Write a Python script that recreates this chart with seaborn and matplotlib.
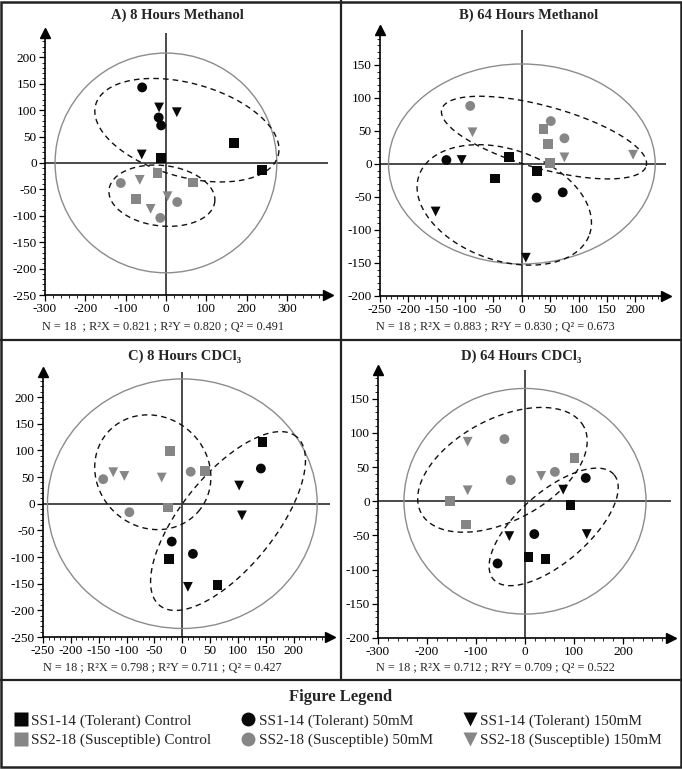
import numpy as np
import pandas as pd
import seaborn as sns
import matplotlib.pyplot as plt
from matplotlib.patches import Ellipse, Rectangle
from matplotlib.lines import Line2D
from matplotlib.ticker import MultipleLocator

W, H = 682, 769
sns.set_style("white")
plt.rcParams['font.family'] = ['Liberation Serif', 'DejaVu Serif']
plt.rcParams['axes.unicode_minus'] = False

BLACK = '#080808'
GRAY = '#868686'

# --- groups (same order in every panel) ---
lines = ['SS1-14 (Tolerant)'] * 9 + ['SS2-18 (Susceptible)'] * 9
treatments = (['Control'] * 3 + ['50mM'] * 3 + ['150mM'] * 3) * 2

# --- score values ---
a_x = [-12, 169, 238, -59, -18, -12, -17, 27, -60,
       -21, 67, -74, -112, 28, -14, -65, 4, -38]
a_y = [9.5, 37, -14, 143, 86, 71, 105, 96, 16,
       -19, -37, -68, -38, -74, -104, -32, -63, -87]

b_x = [-23, -48, 26, -133, 26, 72, -106, -152, 7,
       38, 46, 49, -91, 51, 75, -87, 75, 196]
b_y = [11, -22, -10, 6, -51, -43, 6, -72, -142,
       53, 30, 1, 88, 65, 39, 48, 10, 14]

c_x = [-24, 63, 144, -19, 19, 141, 102, 107, 10,
       -22, 40, -25, -142, -95, 15, -124, -104, -37]
c_y = [-104, -152, 116, -71, -94, 66, 34, -22, -156,
       99, 62, -7, 46, -16, 60, 59, 52, 49]

d_x = [93, 7, 42, 124, 19, -56, 78, -32, 126,
       -153, -121, 101, -42, -29, 61, -117, -117, 33]
d_y = [-5, -82, -84, 34, -48, -91, 17, -51, -48,
       0, -34, 63, 91, 31, 43, 87, 16, 37]

titles = ['A) 8 Hours Methanol', 'B) 64 Hours Methanol',
          'C) 8 Hours CDCl\u2083', 'D) 64 Hours CDCl\u2083']
stats = ['N = 18  ; R\u00b2X = 0.821 ; R\u00b2Y = 0.820 ; Q\u00b2 = 0.491',
         'N = 18 ; R\u00b2X = 0.883 ; R\u00b2Y = 0.830 ; Q\u00b2 = 0.673',
         'N = 18 ; R\u00b2X = 0.798 ; R\u00b2Y = 0.711 ; Q\u00b2 = 0.427',
         'N = 18 ; R\u00b2X = 0.712 ; R\u00b2Y = 0.709 ; Q\u00b2 = 0.522']

# Hotelling T2 ellipse radii (x, y)
t2_radius = [(275, 208), (235, 151.5), (242, 234), (247, 165)]

# group ellipses: centre x, centre y, semi-axes (x units), angle on screen
group_ellipses = [
    [(52, 62, 235, 116, -15.6), (-10, -62, 132, 75, -6.6)],
    [(39, 40, 187, 55, -15.5), (-31, -62, 159, 98, -19)],
    [(-53, 59, 108, 99, -41), (82, -32.5, 195, 84, 51)],
    [(-46, 46, 188, 104, 28), (58.5, -37.5, 163, 72, 41)],
]

# axis setup per panel
xlims = [(-300, 402), (-250, 254), (-250, 265), (-300, 298)]
ylims = [(-250, 246), (-200, 203), (-250, 247), (-200, 192)]
xticks = [np.arange(-300, 301, 100), np.arange(-250, 201, 50),
          np.arange(-250, 201, 50), np.arange(-300, 201, 100)]
yticks = [np.arange(-250, 201, 50), np.arange(-200, 151, 50),
          np.arange(-250, 201, 50), np.arange(-200, 151, 50)]
xminor = [20, 10, 10, 20]

# panel boxes in pixels: left, right, top, bottom
boxes = [(45, 328, 33, 295), (380, 666, 30, 296),
         (43, 330, 372, 637), (378, 671, 370, 638)]
title_pos = [(177, 15), (529, 15), (185, 356), (521, 356)]
stats_pos = [(42, 327), (376, 327), (43, 668), (376, 668)]

xs = [a_x, b_x, c_x, d_x]
ys = [a_y, b_y, c_y, d_y]

palette = {'SS1-14 (Tolerant)': BLACK, 'SS2-18 (Susceptible)': GRAY}
markers = {'Control': 's', '50mM': 'o', '150mM': 'v'}

fig = plt.figure(figsize=(W / 100, H / 100), dpi=100)

for i in range(4):
    l, r, t, b = boxes[i]
    ax = fig.add_axes([l / W, 1 - b / H, (r - l) / W, (b - t) / H])
    df = pd.DataFrame({'t1': xs[i], 't2': ys[i], 'line': lines, 'treatment': treatments})
    x0, x1 = xlims[i]
    y0, y1 = ylims[i]
    ax.set_xlim(x0, x1)
    ax.set_ylim(y0, y1)

    # crosshair
    ax.axhline(0, color='#3c3c3c', lw=1.3, zorder=1)
    ax.axvline(0, color='#3c3c3c', lw=1.3, zorder=1)

    # Hotelling ellipse
    rx, ry = t2_radius[i]
    ax.add_patch(Ellipse((0, 0), 2 * rx, 2 * ry, fill=False, ec='#8c8c8c', lw=1.0, zorder=1))

    # group ellipses (dashed)
    kx = (r - l) / (x1 - x0)
    ky = (b - t) / (y1 - y0)
    ratio = ky / kx
    tt = np.linspace(0, 2 * np.pi, 200)
    for cx, cy, ea, eb, ang in group_ellipses[i]:
        th = np.radians(ang)
        ex = cx + ea * np.cos(tt) * np.cos(th) - eb * np.sin(tt) * np.sin(th)
        ey = cy + (ea * np.cos(tt) * np.sin(th) + eb * np.sin(tt) * np.cos(th)) / ratio
        ax.plot(ex, ey, color='#111111', lw=1.0, ls=(0, (4, 3)), zorder=2)

    sns.scatterplot(data=df, x='t1', y='t2', hue='line', style='treatment',
                    palette=palette, markers=markers, s=50, linewidth=0,
                    legend=False, ax=ax, zorder=3)

    ax.set_xlabel('')
    ax.set_ylabel('')
    ax.set_xticks(xticks[i])
    ax.set_yticks(yticks[i])
    ax.xaxis.set_minor_locator(MultipleLocator(xminor[i]))
    ax.yaxis.set_minor_locator(MultipleLocator(10))
    ax.tick_params(which='major', direction='out', length=4, width=0.9,
                   labelsize=9.5, pad=2, colors='black', left=True, bottom=True)
    ax.tick_params(which='minor', direction='out', length=2.2, width=0.7,
                   left=True, bottom=True)
    for side in ['top', 'right']:
        ax.spines[side].set_visible(False)
    for side in ['left', 'bottom']:
        ax.spines[side].set_color('black')
        ax.spines[side].set_linewidth(1.2)
    ax.set_facecolor('none')
    # arrow heads
    ax.plot([x1], [y0], marker='>', ms=7, color='black', clip_on=False, zorder=5)
    ax.plot([x0], [y1], marker='^', ms=7, color='black', clip_on=False, zorder=5)

    fig.text(title_pos[i][0] / W, 1 - title_pos[i][1] / H, titles[i],
             ha='center', va='center', fontsize=10.5, fontweight='bold')
    fig.text(stats_pos[i][0] / W, 1 - stats_pos[i][1] / H, stats[i],
             ha='left', va='center', fontsize=8.8)

# frame lines
fig.add_artist(Rectangle((0.002, 0.002), 0.996, 0.996, transform=fig.transFigure,
                         fill=False, ec='#222222', lw=1.8))
fig.add_artist(Line2D([341 / W, 341 / W], [1 - 680 / H, 1], transform=fig.transFigure,
                      color='#222222', lw=1.6))
for yy in [340, 680]:
    fig.add_artist(Line2D([0, 1], [1 - yy / H, 1 - yy / H], transform=fig.transFigure,
                          color='#222222', lw=1.6))

# legend
fig.text(341 / W, 1 - 697 / H, 'Figure Legend', ha='center', va='center',
         fontsize=12, fontweight='bold')
handles, labels = [], []
for tr in ['Control', '50mM', '150mM']:
    for ln in ['SS1-14 (Tolerant)', 'SS2-18 (Susceptible)']:
        handles.append(Line2D([], [], ls='none', marker=markers[tr], ms=10,
                              color=palette[ln], mec='none'))
        labels.append(f'{ln} {tr}')
fig.legend(handles, labels, ncol=3, loc='upper left',
           bbox_to_anchor=(13 / W, 1 - 714 / H), frameon=False, fontsize=11,
           handlelength=1.0, handletextpad=0.2, columnspacing=1.9,
           labelspacing=0.35, borderpad=0, borderaxespad=0)

fig.savefig('out.png', dpi=100)
